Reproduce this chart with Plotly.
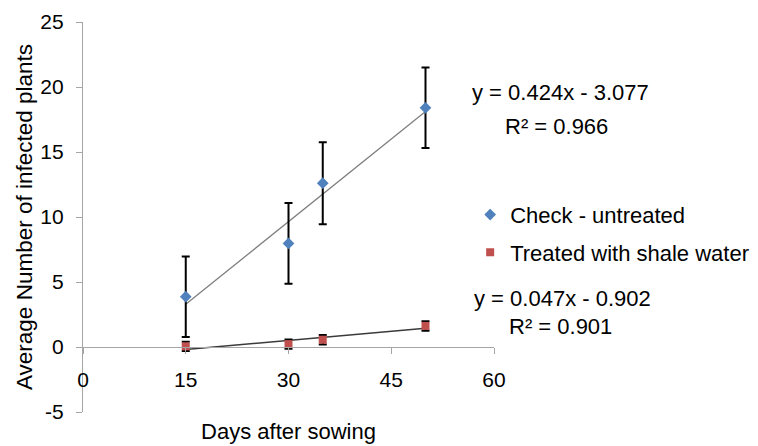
import plotly.graph_objects as go

days = [15, 30, 35, 50]
check_vals = [3.87, 7.97, 12.6, 18.4]
check_err = [3.1, 3.1, 3.15, 3.1]
treated_vals = [0.05, 0.22, 0.56, 1.62]
treated_err = [0.35, 0.35, 0.36, 0.37]

check_slope, check_icpt, check_r2 = 0.424, -3.077, 0.966
treated_slope, treated_icpt, treated_r2 = 0.047, -0.902, 0.901

x_ticks = [0, 15, 30, 45, 60]
y_ticks = [-5, 0, 5, 10, 15, 20, 25]
y_tick_labels = ["-5", "0", "5", "10", "15", "20", "25"]

FONT = "Liberation Sans, Arial, sans-serif"
AXIS_GRAY = "#A6A6A6"

fig = go.Figure()

trend_x = [days[0], days[-1]]
fig.add_trace(go.Scatter(
    x=trend_x, y=[check_slope * v + check_icpt for v in trend_x],
    mode="lines", line=dict(color="#7F7F7F", width=1.3),
    showlegend=False, hoverinfo="skip"))
fig.add_trace(go.Scatter(
    x=trend_x, y=[treated_slope * v + treated_icpt for v in trend_x],
    mode="lines", line=dict(color="#3A3A3A", width=1.5),
    showlegend=False, hoverinfo="skip"))

fig.add_trace(go.Scatter(
    x=days, y=check_vals, mode="markers", name="Check - untreated",
    marker=dict(symbol="diamond", size=9, color="#4F81BD"),
    error_y=dict(type="data", array=check_err, color="black", thickness=2, width=4),
    legendgroup="a"))
fig.add_trace(go.Scatter(
    x=days, y=treated_vals, mode="markers", name="Treated with shale water",
    marker=dict(symbol="square", size=8, color="#C0504D"),
    error_y=dict(type="data", array=treated_err, color="black", thickness=2, width=4),
    legendgroup="b"))

ann_font = dict(family=FONT, size=22, color="black")
annotations = [
    dict(text=f"y = {check_slope}x - {abs(check_icpt)}", x=0.942, y=0.818),
    dict(text=f"R² = {check_r2}", x=1.022, y=0.731),
    dict(text=f"y = {treated_slope}x - {abs(treated_icpt)}", x=0.947, y=0.292),
    dict(text=f"R² = {treated_r2}", x=1.031, y=0.218),
]
for a in annotations:
    a.update(xref="paper", yref="paper", xanchor="left", yanchor="middle",
             showarrow=False, font=ann_font)

# page body has an 8px margin: the figure is drawn 8px in from the top-left
fig.update_layout(
    template="none",
    width=750, height=438,
    margin=dict(l=75, r=264, t=14, b=34, autoexpand=False),
    paper_bgcolor="white", plot_bgcolor="white",
    font=dict(family=FONT, color="black"),
    annotations=annotations,
    showlegend=True,
    legend=dict(x=0.942, y=0.457, xanchor="left", yanchor="middle",
                font=dict(family=FONT, size=22), tracegroupgap=6,
                traceorder="grouped", bgcolor="rgba(0,0,0,0)"),
    xaxis=dict(range=[0, 60], tickvals=x_ticks, ticktext=[str(v) for v in x_ticks],
               showgrid=False, zeroline=False, showline=True, linecolor=AXIS_GRAY,
               linewidth=1.2, ticks="outside", ticklen=6, tickcolor=AXIS_GRAY,
               anchor="free", position=5 / 30, ticklabelstandoff=8, automargin=False,
               tickfont=dict(family=FONT, size=21),
               title=dict(text="Days after sowing", font=dict(family=FONT, size=22),
                          standoff=33)),
    yaxis=dict(range=[-5, 25], tickvals=y_ticks, ticktext=y_tick_labels,
               showgrid=False, zeroline=False, automargin=False,
               showline=True, linecolor=AXIS_GRAY, linewidth=1.2, ticks="outside",
               ticklen=6, tickcolor=AXIS_GRAY, ticklabelstandoff=8,
               tickfont=dict(family=FONT, size=21),
               title=dict(text="Average Number of infected plants",
                          font=dict(family=FONT, size=22.5), standoff=1)),
)

fig.write_html("out.html")
